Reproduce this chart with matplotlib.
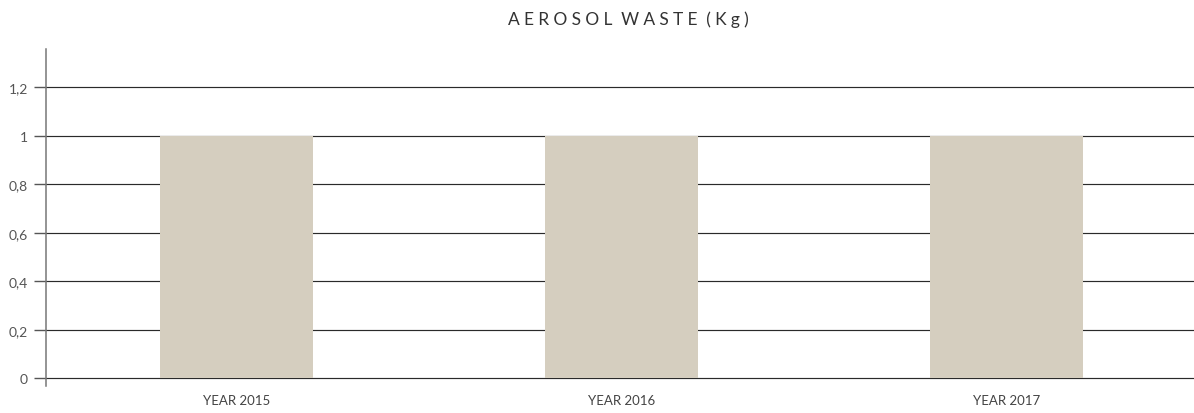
import numpy as np
import matplotlib.pyplot as plt

# data
categories = ['YEAR 2015', 'YEAR 2016', 'YEAR 2017']
values = [1, 1, 1]
y_ticks = [0, 0.2, 0.4, 0.6, 0.8, 1.0, 1.2]
y_labels = ['0', '0,2', '0,4', '0,6', '0,8', '1', '1,2']
title = 'AEROSOL WASTE (Kg)'

plt.rcParams['font.family'] = ['Lato', 'DejaVu Sans']

fig = plt.figure(figsize=(11.94, 4.14), dpi=100)
ax = fig.add_axes([0.0385, 0.0652, 0.9615, 0.8140])

x = np.arange(len(categories))
ax.bar(x, values, width=0.397, color='#d5cebf', zorder=1)

ax.set_xlim(-0.495, 2.487)
ax.set_ylim(-0.031, 1.356)

# horizontal gridlines, hidden behind the bars
for t in y_ticks:
    ax.axhline(t, color='#2a2a2a', linewidth=0.85, zorder=0)

ax.set_yticks(y_ticks)
ax.set_yticklabels(y_labels)
ax.set_xticks(x)
ax.set_xticklabels(categories)

ax.tick_params(axis='y', length=9, width=1.0, color='#555555',
               labelsize=10, labelcolor='#555555', pad=4)
ax.tick_params(axis='x', length=0, labelsize=9.5, labelcolor='#444444', pad=6)

for side in ['top', 'right', 'bottom']:
    ax.spines[side].set_visible(False)
ax.spines['left'].set_color('#777777')
ax.spines['left'].set_linewidth(1.1)

spaced = '\u2002'.join('\u2009\u2009'.join(w) for w in title.split(' '))
fig.text(0.526, 0.952, spaced, ha='center', va='center',
         fontsize=12.5, color='#333333')

fig.savefig('out.png', dpi=100)
